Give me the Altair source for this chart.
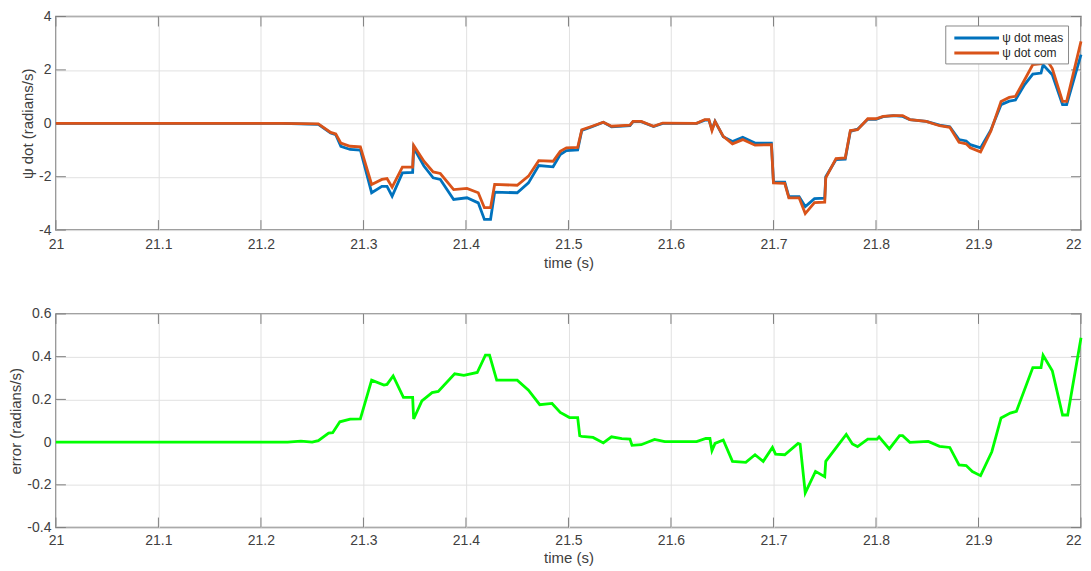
import altair as alt
import pandas as pd

# ---------------- data ----------------
t_meas = [21.0, 21.22, 21.256, 21.268, 21.273, 21.278, 21.287, 21.297, 21.308, 21.318,
          21.323, 21.328, 21.338, 21.348, 21.349, 21.359, 21.368, 21.375, 21.388, 21.401,
          21.412, 21.418, 21.424, 21.428, 21.450, 21.461, 21.471, 21.485, 21.492, 21.498,
          21.509, 21.513, 21.523, 21.534, 21.542, 21.560, 21.563, 21.571, 21.583, 21.592,
          21.625, 21.633, 21.637, 21.640, 21.643, 21.651, 21.660, 21.670, 21.682, 21.698,
          21.700, 21.711, 21.715, 21.725, 21.731, 21.740, 21.750, 21.751, 21.761, 21.770,
          21.775, 21.782, 21.792, 21.800, 21.807, 21.817, 21.826, 21.833, 21.849, 21.862,
          21.872, 21.881, 21.888, 21.892, 21.902, 21.912, 21.922, 21.930, 21.936, 21.945,
          21.953, 21.961, 21.963, 21.972, 21.982, 21.986, 22.0]
meas = [0.0, 0.0, -0.04, -0.36, -0.43, -0.86, -0.98, -1.0, -2.6, -2.36,
        -2.36, -2.73, -1.86, -1.84, -0.92, -1.60, -2.04, -2.10, -2.85, -2.79,
        -2.98, -3.6, -3.6, -2.58, -2.6, -2.23, -1.58, -1.63, -1.17, -1.02,
        -1.0, -0.27, -0.13, 0.04, -0.13, -0.09, 0.06, 0.06, -0.12, 0.0,
        0.0, 0.12, 0.12, -0.23, 0.07, -0.50, -0.68, -0.52, -0.74, -0.74,
        -2.2, -2.2, -2.75, -2.75, -3.12, -2.82, -2.80, -2.0, -1.36, -1.34,
        -0.30, -0.22, 0.15, 0.15, 0.25, 0.29, 0.26, 0.14, 0.07, -0.07,
        -0.13, -0.61, -0.66, -0.80, -0.92, -0.26, 0.70, 0.83, 0.87, 1.45,
        1.84, 1.88, 2.19, 1.82, 0.70, 0.70, 2.57]

t_com = [21.0, 21.22, 21.256, 21.268, 21.273, 21.278, 21.287, 21.297, 21.308, 21.318,
         21.323, 21.328, 21.338, 21.348, 21.349, 21.359, 21.368, 21.375, 21.388, 21.401,
         21.412, 21.418, 21.424, 21.428, 21.450, 21.461, 21.471, 21.485, 21.492, 21.498,
         21.509, 21.513, 21.523, 21.534, 21.542, 21.560, 21.563, 21.571, 21.583, 21.592,
         21.625, 21.633, 21.637, 21.640, 21.643, 21.651, 21.660, 21.670, 21.682, 21.698,
         21.700, 21.711, 21.715, 21.725, 21.731, 21.740, 21.750, 21.751, 21.761, 21.770,
         21.775, 21.782, 21.792, 21.800, 21.807, 21.817, 21.826, 21.833, 21.849, 21.862,
         21.872, 21.881, 21.888, 21.892, 21.902, 21.912, 21.922, 21.930, 21.936, 21.945,
         21.953, 21.961, 21.963, 21.972, 21.982, 21.986, 22.0]
com = [0.0, 0.0, -0.02, -0.34, -0.40, -0.74, -0.86, -0.88, -2.29, -2.10,
       -2.07, -2.39, -1.64, -1.64, -0.83, -1.42, -1.82, -1.88, -2.48, -2.44,
       -2.60, -3.16, -3.16, -2.29, -2.32, -1.98, -1.40, -1.42, -1.05, -0.92,
       -0.90, -0.24, -0.11, 0.04, -0.11, -0.07, 0.07, 0.07, -0.11, 0.01,
       0.0, 0.14, 0.14, -0.27, 0.07, -0.49, -0.77, -0.61, -0.82, -0.80,
       -2.23, -2.25, -2.79, -2.79, -3.38, -2.97, -2.95, -2.04, -1.32, -1.30,
       -0.27, -0.24, 0.17, 0.17, 0.26, 0.29, 0.29, 0.14, 0.07, -0.09,
       -0.15, -0.71, -0.77, -0.92, -1.07, -0.30, 0.82, 0.97, 1.01, 1.63,
       2.20, 2.23, 2.60, 2.05, 0.82, 0.82, 3.07]

t_err = [21.0, 21.226, 21.239, 21.250, 21.256, 21.266, 21.270, 21.277, 21.287, 21.297,
         21.308, 21.320, 21.323, 21.329, 21.339, 21.348, 21.349, 21.357, 21.367, 21.373,
         21.389, 21.398, 21.411, 21.419, 21.423, 21.430, 21.450, 21.461, 21.472, 21.484,
         21.492, 21.501, 21.509, 21.511, 21.513, 21.524, 21.534, 21.542, 21.552, 21.560,
         21.562, 21.571, 21.584, 21.594, 21.625, 21.634, 21.638, 21.640, 21.643, 21.651,
         21.660, 21.673, 21.682, 21.690, 21.699, 21.702, 21.711, 21.724, 21.726, 21.731,
         21.741, 21.750, 21.751, 21.771, 21.777, 21.782, 21.792, 21.801, 21.803, 21.813,
         21.823, 21.826, 21.833, 21.851, 21.862, 21.872, 21.881, 21.888, 21.894, 21.902,
         21.913, 21.922, 21.931, 21.937, 21.953, 21.961, 21.963, 21.972, 21.982, 21.987,
         22.0]
err = [0.0, 0.0, 0.005, 0.0, 0.007, 0.042, 0.044, 0.095, 0.108, 0.109,
       0.29, 0.267, 0.27, 0.31, 0.21, 0.209, 0.108, 0.193, 0.232, 0.237,
       0.32, 0.313, 0.326, 0.407, 0.407, 0.29, 0.29, 0.243, 0.175, 0.181,
       0.139, 0.115, 0.115, 0.03, 0.027, 0.022, -0.004, 0.025, 0.016, 0.014,
       -0.015, -0.012, 0.013, 0.002, 0.002, 0.017, 0.017, -0.04, -0.006, 0.01,
       -0.09, -0.095, -0.059, -0.09, -0.025, -0.056, -0.059, -0.006, -0.01, -0.238,
       -0.137, -0.162, -0.09, 0.036, -0.009, -0.021, 0.014, 0.014, 0.025, -0.032,
       0.03, 0.03, -0.001, 0.003, -0.02, -0.025, -0.107, -0.11, -0.138, -0.157,
       -0.045, 0.113, 0.136, 0.144, 0.349, 0.349, 0.407, 0.334, 0.127, 0.127,
       0.489]

series_names = ["\u03c8 dot meas", "\u03c8 dot com"]
series_colors = ["#0072BD", "#D95319"]
err_color = "#00FF00"

x_ticks = [21.0, 21.1, 21.2, 21.3, 21.4, 21.5, 21.6, 21.7, 21.8, 21.9, 22.0]
y1_ticks = [-4, -2, 0, 2, 4]
y2_ticks = [-0.4, -0.2, 0.0, 0.2, 0.4, 0.6]

# ---------------- layout / style ----------------
W, H = 1027, 214
TICK_LEN = 10
BOX = "#7f7f7f"
TXT = "#404040"
FONT = "Liberation Sans"

top_df = pd.concat([
    pd.DataFrame({"t": t_meas, "v": meas, "series": series_names[0]}),
    pd.DataFrame({"t": t_com, "v": com, "series": series_names[1]}),
], ignore_index=True)
err_df = pd.DataFrame({"t": t_err, "v": err})

xt_df = pd.DataFrame({"t": x_ticks})
y1t_df = pd.DataFrame({"v": y1_ticks})
y2t_df = pd.DataFrame({"v": y2_ticks})

minus_expr = "datum.value < 0 ? '-' + format(-datum.value, '~g') : format(datum.value, '~g')"


def x_enc(lp, tp):
    return alt.X("t:Q",
                 scale=alt.Scale(domain=[21, 22], nice=False, zero=False),
                 axis=alt.Axis(values=x_ticks, title="time (s)", labelExpr=minus_expr,
                               labelFlush=False,
                               labelAlign={"condition": {"test": "datum.value >= 22",
                                                         "value": "right"},
                                           "value": "center"},
                               labelPadding=lp, titlePadding=tp))


def y_enc(ticks, dom, title):
    return alt.Y("v:Q",
                 scale=alt.Scale(domain=dom, nice=False, zero=False),
                 axis=alt.Axis(values=ticks, title=title, labelExpr=minus_expr,
                               labelPadding=5, titlePadding=3))


def tick_layers(y_ticks_df, yenc, xenc):
    left = alt.Chart(y_ticks_df).mark_rule(color=BOX, strokeWidth=1).encode(
        y=yenc, x=alt.value(0), x2=alt.value(TICK_LEN))
    right = alt.Chart(y_ticks_df).mark_rule(color=BOX, strokeWidth=1).encode(
        y=yenc, x=alt.value(W - TICK_LEN), x2=alt.value(W))
    bottom = alt.Chart(xt_df).mark_rule(color=BOX, strokeWidth=1).encode(
        x=xenc, y=alt.value(H - TICK_LEN), y2=alt.value(H))
    top = alt.Chart(xt_df).mark_rule(color=BOX, strokeWidth=1).encode(
        x=xenc, y=alt.value(0), y2=alt.value(TICK_LEN))
    return [left, right, bottom, top]


# ---- top panel ----
x_top = x_enc(7, 4)
y_top = y_enc(y1_ticks, [-4, 4], "\u03c8 dot (radians/s)")
color_enc = alt.Color(
    "series:N",
    scale=alt.Scale(domain=series_names, range=series_colors),
    legend=alt.Legend(
        title=None, orient="none", legendX=891, legendY=9,
        direction="vertical",
        strokeColor="#8a8a8a", fillColor="white", padding=4,
        symbolType="M-3.2,0H3.2", symbolSize=196, symbolStrokeWidth=3,
        symbolOffset=19, labelOffset=17,
        labelFont=FONT, labelFontSize=12, labelColor="#262626",
        rowPadding=0,
    ),
)

meas_line = alt.Chart(top_df).transform_filter(
    alt.datum.series == series_names[0]
).mark_line(strokeWidth=2.8).encode(x=x_top, y=y_top, color=color_enc)
com_line = alt.Chart(top_df).transform_filter(
    alt.datum.series == series_names[1]
).mark_line(strokeWidth=2.8).encode(x=x_top, y=y_top, color=color_enc)

top_panel = alt.layer(
    *tick_layers(y1t_df, y_top, x_top), meas_line, com_line
).properties(width=W, height=H)

# ---- bottom panel ----
x_bot = x_enc(6, 3)
y_bot = y_enc(y2_ticks, [-0.4, 0.6], "error (radians/s)")
err_line = alt.Chart(err_df).mark_line(strokeWidth=2.8, color=err_color).encode(
    x=x_bot, y=y_bot)
bottom_panel = alt.layer(
    *tick_layers(y2t_df, y_bot, x_bot), err_line
).properties(width=W, height=H)

chart = alt.vconcat(top_panel, bottom_panel, spacing=35).properties(
    padding={"left": 0, "top": 0, "right": -5, "bottom": 0}
).configure_view(
    stroke=BOX, strokeWidth=1.5
).configure_axis(
    grid=True, gridColor="#e1e1e1", gridWidth=1,
    ticks=False, tickSize=0, domain=False,
    labelFont=FONT, labelFontSize=14, labelColor=TXT,
    titleFont=FONT, titleFontSize=15, titleColor=TXT, titleFontWeight="normal",
)

chart.save("out.html", embed_options={"renderer": "svg", "actions": False})
